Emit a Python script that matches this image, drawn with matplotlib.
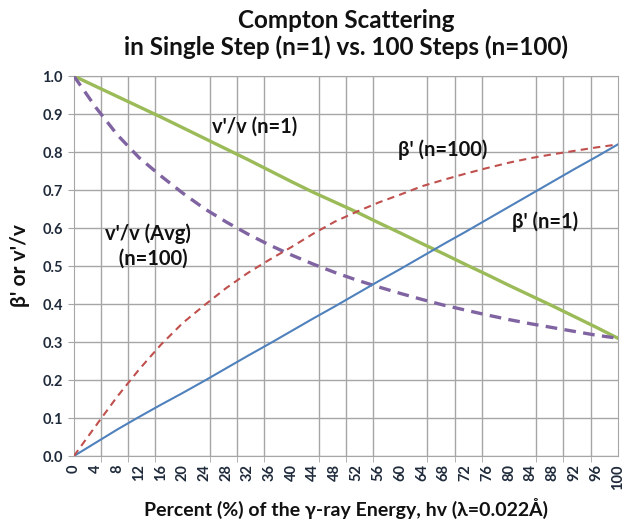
import matplotlib
matplotlib.use("Agg")
import matplotlib.pyplot as plt
from matplotlib.ticker import MultipleLocator

plt.rcParams["font.family"] = ["Lato", "DejaVu Sans"]

# percent of the gamma-ray energy
pct = [0, 4, 8, 12, 16, 20, 24, 28, 32, 36, 40, 44, 48, 52, 56, 60, 64, 68, 72,
       76, 80, 84, 88, 92, 96, 100]

# v'/v, single step
ratio_n1 = [1.0, 0.973, 0.946, 0.919, 0.892, 0.864, 0.836, 0.808, 0.780, 0.751,
            0.722, 0.694, 0.668, 0.642, 0.614, 0.587, 0.559, 0.532, 0.504,
            0.477, 0.449, 0.422, 0.395, 0.367, 0.339, 0.31]
# v'/v averaged, 100 steps
ratio_n100 = [1.0, 0.918, 0.845, 0.785, 0.737, 0.692, 0.651, 0.616, 0.584,
              0.555, 0.529, 0.505, 0.483, 0.463, 0.445, 0.428, 0.412, 0.397,
              0.384, 0.371, 0.359, 0.348, 0.338, 0.328, 0.318, 0.31]
# beta', single step
beta_n1 = [0.0, 0.035, 0.070, 0.103, 0.135, 0.166, 0.198, 0.231, 0.264, 0.296,
           0.329, 0.362, 0.394, 0.427, 0.46, 0.492, 0.525, 0.558, 0.59, 0.623,
           0.656, 0.689, 0.722, 0.755, 0.787, 0.82]
# beta', 100 steps
beta_n100 = [0.0, 0.079, 0.157, 0.228, 0.293, 0.35, 0.397, 0.442, 0.482, 0.517,
             0.55, 0.585, 0.617, 0.643, 0.667, 0.688, 0.71, 0.727, 0.743,
             0.758, 0.772, 0.784, 0.794, 0.803, 0.812, 0.82]

tick_color = "#1f2a3a"
grid_color = "#a6a6a6"

fig = plt.figure(figsize=(6.26, 5.26), dpi=100)
ax = fig.add_axes([0.118, 0.133, 0.869, 0.7225])

ax.plot(pct, ratio_n1, color="#9bbb59", lw=2.4, zorder=4)
ax.plot(pct, ratio_n100, color="#8064a2", lw=2.4, ls=(0, (3.5, 2.2)), zorder=4)
ax.plot(pct, beta_n1, color="#4f81bd", lw=1.5, zorder=4)
ax.plot(pct, beta_n100, color="#c0504d", lw=1.5, ls=(0, (3.5, 2.5)), zorder=4)

ax.set_xlim(0, 100)
ax.set_ylim(0, 1.0)

# labels every 4, gridlines and ticks every 5 (Excel category axis)
ax.set_xticks(pct)
ax.set_xticklabels([str(p) for p in pct], rotation=90, fontweight="bold",
                   fontsize=10.5, color=tick_color)
ax.xaxis.set_minor_locator(MultipleLocator(5))
ax.yaxis.set_major_locator(MultipleLocator(0.1))
ax.yaxis.set_major_formatter(lambda v, pos: f"{v:.1f}")
for lab in ax.get_yticklabels():
    lab.set_fontweight("bold")
ax.tick_params(axis="y", labelsize=10.5, labelcolor=tick_color, length=4,
               color=grid_color, pad=4)
ax.tick_params(axis="x", which="major", length=0, pad=6)
ax.tick_params(axis="x", which="minor", length=4, color=grid_color)
ax.grid(True, axis="x", which="minor", color=grid_color, lw=1.0)
ax.grid(True, axis="y", which="major", color=grid_color, lw=1.0)
ax.grid(False, axis="x", which="major")
for s in ax.spines.values():
    s.set_color(grid_color)

ax.set_title("Compton Scattering\nin Single Step (n=1) vs. 100 Steps (n=100)",
             fontsize=17.5, fontweight="bold", color="#111111", pad=15,
             linespacing=1.2)
ax.set_xlabel("Percent (%) of the \u03b3-ray Energy, hv (\u03bb=0.022\u00c5)",
              fontsize=14, fontweight="bold", color="#111111", labelpad=6)
ax.set_ylabel("\u03b2' or v'/v", fontsize=15, fontweight="bold",
              color="#111111", labelpad=9)

lab_kw = dict(fontsize=14.5, fontweight="bold", color="#111111", ha="center",
              va="center", zorder=5)
ax.text(33.3, 0.866, "v'/v (n=1)", **lab_kw)
ax.text(67.8, 0.805, "\u03b2' (n=100)", **lab_kw)
ax.text(13.6, 0.553, "v'/v (Avg)\n  (n=100)", linespacing=1.3, **lab_kw)
ax.text(86.6, 0.616, "\u03b2' (n=1)", **lab_kw)

fig.savefig("out.png", dpi=100)
